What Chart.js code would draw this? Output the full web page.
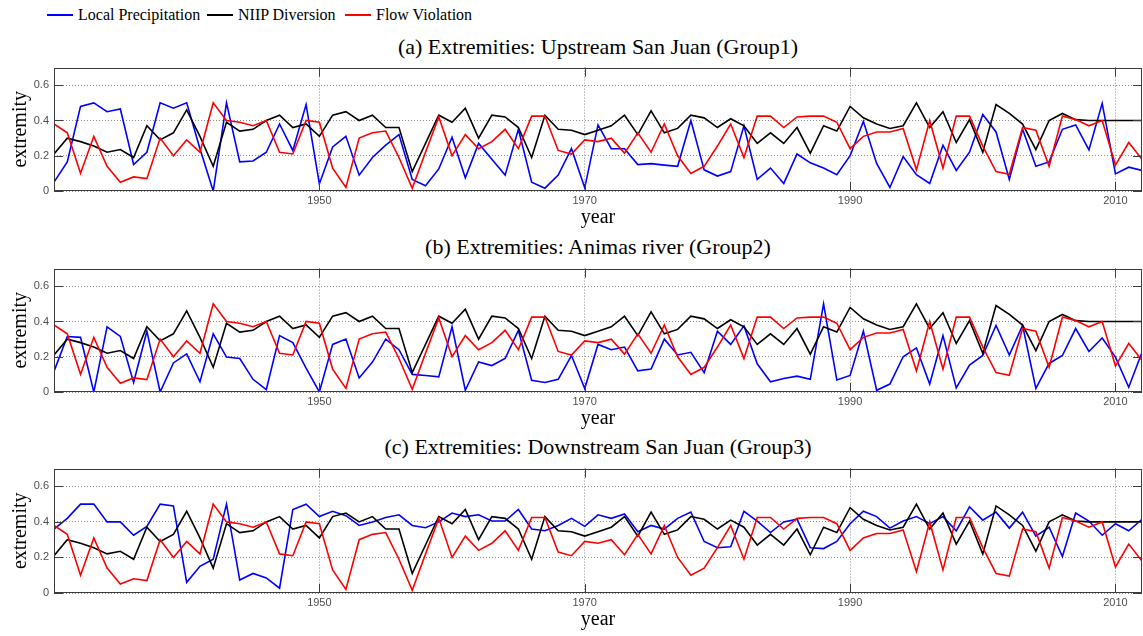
<!DOCTYPE html>
<html>
<head>
<meta charset="utf-8">
<script src="https://cdn.jsdelivr.net/npm/chart.js@4.4.1/dist/chart.umd.min.js"></script>
<style>
  body { margin: 0; background: #fff; }
  #fig { position: relative; width: 1143px; height: 636px; font-family: "Liberation Serif", "Times New Roman", serif; }
  .panel { position: absolute; left: 0; width: 1143px; }
  .ttl { position: absolute; left: 54px; width: 1088px; text-align: center; font-size: 22px; line-height: 26px; color: #000; }
  .legline { position: absolute; height: 2px; top: 14px; }
  .legtxt { position: absolute; top: 6px; font-size: 16px; line-height: 18px; color: #000; white-space: nowrap; }
</style>
</head>
<body>
<div id="fig">
  <div id="legend"></div>
  <div class="ttl" id="t0" style="top:34px"></div>
  <div class="ttl" id="t1" style="top:234px"></div>
  <div class="ttl" id="t2" style="top:434px"></div>
  <div class="panel" style="top:56px;height:175px"><canvas id="chartA"></canvas></div>
  <div class="panel" style="top:257px;height:175px"><canvas id="chartB"></canvas></div>
  <div class="panel" style="top:457px;height:176px"><canvas id="chartC"></canvas></div>
</div>
<script>
// data
const years = [1930,1931,1932,1933,1934,1935,1936,1937,1938,1939,
  1940,1941,1942,1943,1944,1945,1946,1947,1948,1949,
  1950,1951,1952,1953,1954,1955,1956,1957,1958,1959,
  1960,1961,1962,1963,1964,1965,1966,1967,1968,1969,
  1970,1971,1972,1973,1974,1975,1976,1977,1978,1979,
  1980,1981,1982,1983,1984,1985,1986,1987,1988,1989,
  1990,1991,1992,1993,1994,1995,1996,1997,1998,1999,
  2000,2001,2002,2003,2004,2005,2006,2007,2008,2009,
  2010,2011,2012];

const seriesNames = ['Local Precipitation', 'NIIP Diversion', 'Flow Violation'];
const panelTitles = [
  '(a) Extremities: Upstream San Juan (Group1)',
  '(b) Extremities: Animas river (Group2)',
  '(c) Extremities: Downstream San Juan (Group3)'
];
const xTicks = [1950, 1970, 1990, 2010];
const yTicks = [0, 0.2, 0.4, 0.6];

// same in all three panels
const niip = [0.21,0.30,0.28,0.255,0.22,0.235,0.19,0.37,0.29,0.33,
  0.46,0.31,0.14,0.39,0.34,0.35,0.40,0.43,0.36,0.38,
  0.31,0.43,0.45,0.40,0.43,0.36,0.36,0.11,0.27,0.43,
  0.39,0.47,0.30,0.43,0.42,0.36,0.19,0.43,0.35,0.345,
  0.32,0.345,0.37,0.43,0.32,0.455,0.33,0.355,0.43,0.415,
  0.36,0.41,0.37,0.27,0.33,0.27,0.36,0.215,0.37,0.34,
  0.48,0.415,0.38,0.355,0.37,0.50,0.36,0.45,0.275,0.405,
  0.22,0.49,0.44,0.38,0.235,0.40,0.44,0.405,0.40,0.40,
  0.40,0.40,0.40];

const flow = [0.38,0.33,0.10,0.31,0.14,0.05,0.08,0.07,0.30,0.20,
  0.29,0.22,0.50,0.40,0.39,0.37,0.40,0.22,0.21,0.40,
  0.39,0.13,0.02,0.30,0.33,0.34,0.19,0.015,0.22,0.42,
  0.20,0.32,0.24,0.28,0.35,0.24,0.425,0.425,0.23,0.21,
  0.29,0.28,0.30,0.215,0.33,0.22,0.38,0.20,0.10,0.14,
  0.255,0.38,0.19,0.425,0.425,0.36,0.42,0.425,0.425,0.39,
  0.24,0.31,0.335,0.335,0.355,0.12,0.40,0.13,0.425,0.425,
  0.255,0.11,0.095,0.36,0.345,0.14,0.425,0.405,0.37,0.40,
  0.147,0.275,0.18];

const precipUp = [0.05,0.165,0.48,0.50,0.45,0.465,0.15,0.22,0.50,0.47,
  0.50,0.24,0.00,0.50,0.165,0.17,0.22,0.38,0.23,0.49,
  0.04,0.25,0.31,0.09,0.19,0.26,0.32,0.066,0.03,0.125,
  0.305,0.075,0.27,0.18,0.09,0.35,0.05,0.016,0.09,0.24,
  0.018,0.375,0.24,0.24,0.15,0.155,0.147,0.14,0.40,0.12,
  0.085,0.11,0.37,0.066,0.13,0.043,0.21,0.16,0.13,0.093,
  0.20,0.395,0.156,0.02,0.195,0.093,0.043,0.26,0.117,0.22,
  0.434,0.335,0.066,0.35,0.14,0.165,0.35,0.375,0.233,0.497,
  0.097,0.135,0.117];

const precipAnimas = [0.117,0.315,0.31,0.0,0.37,0.315,0.054,0.345,0.0,0.165,
  0.216,0.058,0.33,0.198,0.19,0.072,0.014,0.32,0.28,0.135,
  0.0,0.27,0.30,0.08,0.17,0.30,0.24,0.10,0.094,0.086,
  0.37,0.01,0.17,0.15,0.19,0.35,0.067,0.054,0.072,0.207,
  0.02,0.27,0.24,0.255,0.12,0.13,0.30,0.21,0.225,0.11,
  0.345,0.27,0.375,0.16,0.058,0.077,0.09,0.072,0.50,0.068,
  0.094,0.345,0.01,0.045,0.20,0.25,0.045,0.32,0.023,0.153,
  0.207,0.378,0.21,0.378,0.02,0.162,0.207,0.36,0.23,0.306,
  0.198,0.027,0.225];

const precipDown = [0.36,0.42,0.50,0.50,0.40,0.40,0.325,0.375,0.50,0.49,
  0.06,0.15,0.19,0.50,0.073,0.11,0.085,0.027,0.47,0.50,
  0.43,0.46,0.435,0.38,0.40,0.425,0.44,0.38,0.367,0.40,
  0.45,0.43,0.44,0.405,0.405,0.47,0.36,0.35,0.38,0.42,
  0.375,0.44,0.42,0.445,0.345,0.38,0.36,0.42,0.455,0.29,
  0.255,0.26,0.46,0.405,0.34,0.40,0.415,0.255,0.25,0.29,
  0.39,0.46,0.43,0.365,0.405,0.43,0.39,0.43,0.35,0.485,
  0.41,0.455,0.365,0.455,0.32,0.37,0.205,0.45,0.405,0.325,
  0.39,0.35,0.415];

const colors = ['#0000ff', '#000000', '#ff0000'];
const serif = '"Liberation Serif", "Times New Roman", serif';
const sans = '"Liberation Sans", Arial, sans-serif';

// legend + titles as plain text
const legX = [[47, 78], [207, 238], [345, 376]];
const leg = document.getElementById('legend');
seriesNames.forEach((name, i) => {
  const ln = document.createElement('div');
  ln.className = 'legline';
  ln.style.left = legX[i][0] + 'px';
  ln.style.width = '26px';
  ln.style.background = colors[i];
  leg.appendChild(ln);
  const tx = document.createElement('div');
  tx.className = 'legtxt';
  tx.style.left = legX[i][1] + 'px';
  tx.textContent = name;
  leg.appendChild(tx);
});
panelTitles.forEach((t, i) => { document.getElementById('t' + i).textContent = t; });

// matlab style box with inward ticks
const boxPlugin = {
  id: 'box',
  afterDatasetsDraw(chart) {
    const { ctx, chartArea: a, scales } = chart;
    ctx.save();
    ctx.strokeStyle = '#3c3c3c';
    ctx.lineWidth = 1;
    ctx.strokeRect(Math.round(a.left) + 0.5, Math.round(a.top) + 0.5,
      Math.round(a.right - a.left) - 1, Math.round(a.bottom - a.top) - 1);
    ctx.beginPath();
    yTicks.forEach(v => {
      const py = Math.round(scales.y.getPixelForValue(v)) + 0.5;
      ctx.moveTo(a.left, py); ctx.lineTo(a.left + 9, py);
      ctx.moveTo(a.right, py); ctx.lineTo(a.right - 9, py);
    });
    xTicks.forEach(v => {
      const px = Math.round(scales.x.getPixelForValue(v)) + 0.5;
      ctx.moveTo(px, a.top); ctx.lineTo(px, a.top + 9);
      ctx.moveTo(px, a.bottom); ctx.lineTo(px, a.bottom - 9);
    });
    ctx.stroke();
    ctx.restore();
  }
};

function toPoints(vals) {
  return years.map((yr, i) => ({ x: yr, y: vals[i] }));
}

function makePanel(id, precip) {
  var ctx = document.getElementById(id).getContext('2d');
  return new Chart(ctx, {
    type: 'line',
    data: {
      datasets: [{
        label: seriesNames[0], data: toPoints(precip),
        borderColor: colors[0], order: 3
      }, {
        label: seriesNames[1], data: toPoints(niip),
        borderColor: colors[1], order: 2
      }, {
        label: seriesNames[2], data: toPoints(flow),
        borderColor: colors[2], order: 1
      }]
    },
    options: {
      responsive: true,
      maintainAspectRatio: false,
      animation: false,
      layout: { padding: { top: 5, right: 1, left: 0, bottom: 0 } },
      elements: {
        line: { borderWidth: 1.6, tension: 0 },
        point: { radius: 0 }
      },
      plugins: { legend: { display: false }, tooltip: { enabled: false } },
      scales: {
        x: {
          type: 'linear', min: 1930, max: 2012,
          afterBuildTicks: s => { s.ticks = xTicks.map(v => ({ value: v })); },
          afterFit: s => { s.height = 40; },
          grid: { color: '#8c8c8c', lineWidth: 1, drawTicks: false },
          border: { display: false, dash: [1, 2] },
          ticks: { padding: 3, color: '#4d4d4d', font: { family: sans, size: 11 }, maxRotation: 0,
            callback: v => String(v) },
          title: { display: true, text: 'year', color: '#000',
            font: { family: serif, size: 20 }, padding: { top: 0, bottom: 1 } }
        },
        y: {
          min: 0, max: 0.7,
          afterBuildTicks: s => { s.ticks = yTicks.map(v => ({ value: v })); },
          afterFit: s => { s.width = 54; },
          grid: { color: '#8c8c8c', lineWidth: 1, drawTicks: false },
          border: { display: false, dash: [1, 2] },
          ticks: { padding: 5, color: '#4d4d4d', font: { family: sans, size: 11 },
            callback: v => v === 0 ? '0' : v.toFixed(1) },
          title: { display: true, text: 'extremity', color: '#000',
            font: { family: serif, size: 20 }, padding: { top: 9, bottom: 0 } }
        }
      }
    },
    plugins: [boxPlugin]
  });
}

makePanel('chartA', precipUp);
makePanel('chartB', precipAnimas);
makePanel('chartC', precipDown);
</script>
</body>
</html>
